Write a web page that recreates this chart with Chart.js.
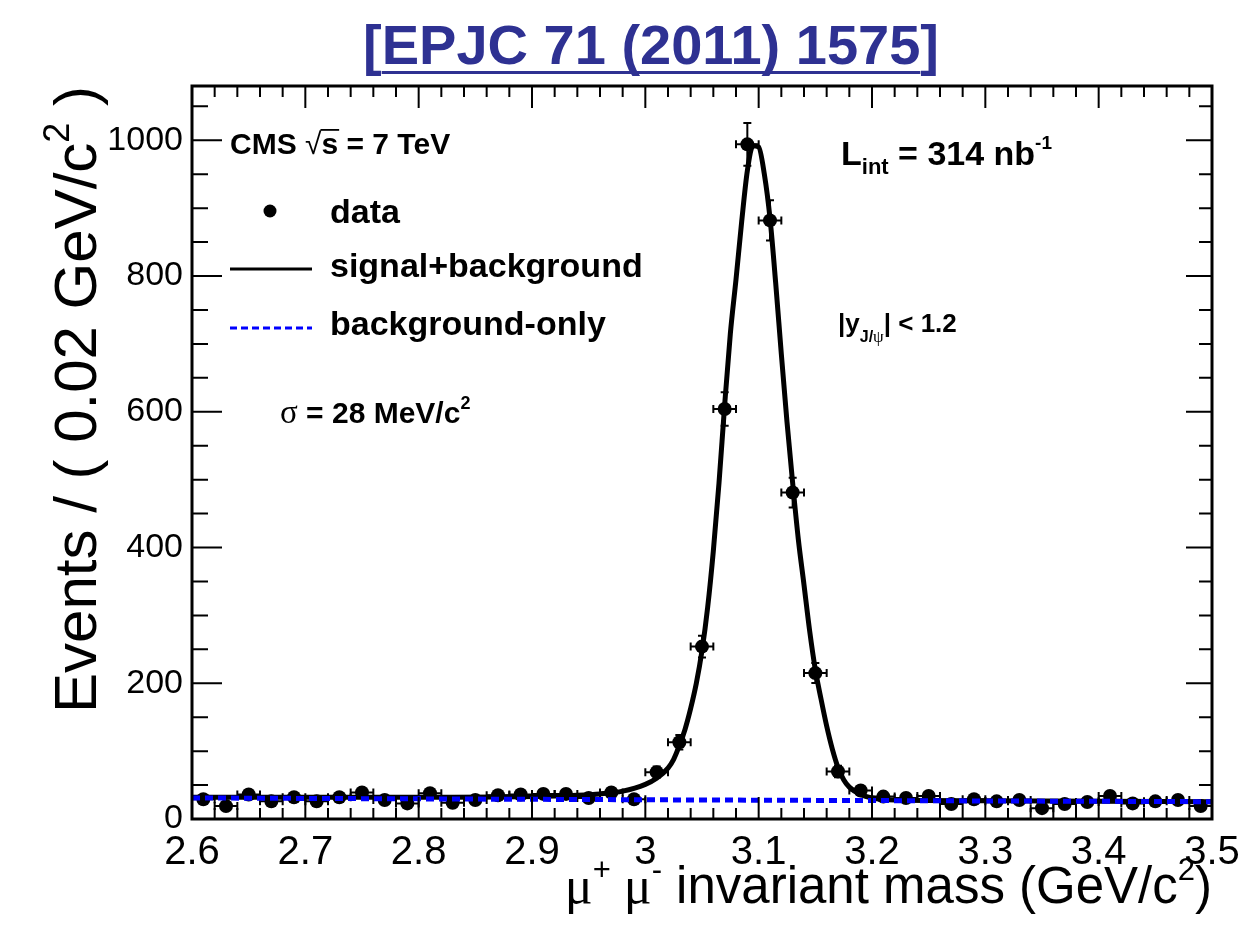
<!DOCTYPE html>
<html>
<head>
<meta charset="utf-8">
<script src="https://cdn.jsdelivr.net/npm/chart.js@4.4.0/dist/chart.umd.min.js"></script>
<style>
html, body { margin: 0; padding: 0; background: #fff; }
#wrap { width: 1250px; height: 931px; }
</style>
</head>
<body>
<div id="wrap"><canvas id="massPlot" width="1250" height="931"></canvas></div>
<script>
// bin centres in GeV/c^2 (bins are 0.02 wide)
var binCentres = [2.61, 2.63, 2.65, 2.67, 2.69, 2.71, 2.73, 2.75, 2.77, 2.79,
                  2.81, 2.83, 2.85, 2.87, 2.89, 2.91, 2.93, 2.95, 2.97, 2.99,
                  3.01, 3.03, 3.05, 3.07, 3.09, 3.11, 3.13, 3.15, 3.17, 3.19,
                  3.21, 3.23, 3.25, 3.27, 3.29, 3.31, 3.33, 3.35, 3.37, 3.39,
                  3.41, 3.43, 3.45, 3.47, 3.49];
var events = [29, 19, 36, 26, 32, 26, 32, 39, 28, 23,
              38, 24, 28, 35, 36, 37, 37, 31, 39, 29,
              69, 113, 254, 604, 994, 882, 481, 215, 70, 42,
              33, 31, 34, 22, 29, 26, 28, 16, 22, 25,
              34, 23, 26, 28, 19];
var eventErrors = [5.4, 4.4, 6.0, 5.1, 5.7, 5.1, 5.7, 6.2, 5.3, 4.8,
                   6.2, 4.9, 5.3, 5.9, 6.0, 6.1, 6.1, 5.6, 6.2, 5.4,
                   8.3, 10.6, 15.9, 24.6, 31.5, 29.7, 21.9, 14.7, 8.4, 6.5,
                   5.7, 5.6, 5.8, 4.7, 5.4, 5.1, 5.3, 4.0, 4.7, 5.0,
                   5.8, 4.8, 5.1, 5.3, 4.4];

// fitted signal+background curve
var fitMass = [2.60, 2.70, 2.80, 2.90, 2.94, 2.96, 2.98, 3.00, 3.01, 3.02,
               3.025, 3.03, 3.035, 3.04, 3.045, 3.05, 3.055, 3.06, 3.065, 3.07,
               3.075, 3.08, 3.085, 3.09, 3.095, 3.10, 3.105, 3.11, 3.115, 3.12,
               3.125, 3.13, 3.135, 3.14, 3.145, 3.15, 3.155, 3.16, 3.165, 3.17,
               3.175, 3.18, 3.19, 3.20, 3.22, 3.30, 3.40, 3.50];
var fitEvents = [32, 32, 32, 33, 35, 37, 41, 51, 60, 75,
                 88, 108, 132, 163, 200, 248, 312, 395, 495, 610,
                 715, 795, 880, 955, 992, 990, 950, 885, 790, 685,
                 585, 495, 412, 345, 277, 220, 177, 137, 103, 76,
                 58, 47, 36, 31, 28, 27, 26, 25.5];

// background-only component
var bkgMass = [2.60, 3.05, 3.50];
var bkgEvents = [31, 28, 25.5];

var xTickValues = [2.6, 2.7, 2.8, 2.9, 3.0, 3.1, 3.2, 3.3, 3.4, 3.5];
var xTickLabels = ['2.6', '2.7', '2.8', '2.9', '3', '3.1', '3.2', '3.3', '3.4', '3.5'];
var yTickValues = [0, 200, 400, 600, 800, 1000];
var yTickLabels = ['0', '200', '400', '600', '800', '1000'];

var SANS = '"Liberation Sans", Arial, Helvetica, sans-serif';
var SERIF = '"Liberation Serif", "Times New Roman", serif';

// draws a run of text pieces (for sub/superscripts)
function drawRich(ctx, x, y, parts, align) {
  var total = 0;
  parts.forEach(function (p) { ctx.font = p.font; p.w = ctx.measureText(p.t).width; total += p.w; });
  var cx = x;
  if (align === 'right') cx = x - total;
  else if (align === 'center') cx = x - total / 2;
  ctx.textAlign = 'left';
  ctx.textBaseline = 'alphabetic';
  parts.forEach(function (p) {
    ctx.font = p.font;
    ctx.fillStyle = p.color || '#000';
    ctx.fillText(p.t, cx, y + (p.dy || 0));
    p.x0 = cx;
    cx += p.w;
  });
  return parts;
}

var rootStyle = {
  id: 'rootStyle',
  beforeDraw: function (chart) {
    var c = chart.ctx;
    c.save();
    c.fillStyle = '#fff';
    c.fillRect(0, 0, chart.width, chart.height);
    c.restore();
  },
  afterDatasetDraw: function (chart, args) {
    if (args.index !== 2) return;
    var c = chart.ctx, xs = chart.scales.x, ys = chart.scales.y;
    c.save();
    c.strokeStyle = '#000';
    c.lineWidth = 2;
    binCentres.forEach(function (m, i) {
      var px = xs.getPixelForValue(m), py = ys.getPixelForValue(events[i]);
      var xl = xs.getPixelForValue(m - 0.01), xr = xs.getPixelForValue(m + 0.01);
      var yt = ys.getPixelForValue(events[i] + eventErrors[i]);
      var yb = ys.getPixelForValue(events[i] - eventErrors[i]);
      c.beginPath();
      c.moveTo(xl, py); c.lineTo(xr, py);
      c.moveTo(xl, py - 4); c.lineTo(xl, py + 4);
      c.moveTo(xr, py - 4); c.lineTo(xr, py + 4);
      c.moveTo(px, yt); c.lineTo(px, yb);
      c.moveTo(px - 4, yt); c.lineTo(px + 4, yt);
      c.moveTo(px - 4, yb); c.lineTo(px + 4, yb);
      c.stroke();
    });
    c.restore();
  },
  afterDraw: function (chart) {
    var c = chart.ctx, a = chart.chartArea, xs = chart.scales.x, ys = chart.scales.y;
    c.save();

    // frame
    c.strokeStyle = '#000';
    c.lineWidth = 3;
    c.strokeRect(a.left, a.top, a.right - a.left, a.bottom - a.top);

    // ticks pointing inwards, ROOT style
    c.lineWidth = 2;
    c.beginPath();
    for (var k = 0; k <= 45; k++) {
      var px = xs.getPixelForValue(2.6 + k * 0.02);
      var len = (k % 5 === 0) ? 22 : 11;
      c.moveTo(px, a.bottom); c.lineTo(px, a.bottom - len);
      c.moveTo(px, a.top); c.lineTo(px, a.top + len);
    }
    for (var v = 0; v <= 1050; v += 50) {
      var py = ys.getPixelForValue(v);
      var major = (v % 200 === 0);
      c.moveTo(a.left, py); c.lineTo(a.left + (major ? 30 : 16), py);
      c.moveTo(a.right, py); c.lineTo(a.right - (major ? 26 : 13), py);
    }
    c.stroke();

    // title
    c.font = 'bold 56px ' + SANS;
    var tText = '[EPJC 71 (2011) 1575]';
    var tw = c.measureText(tText).width;
    var bw = c.measureText('[').width;
    var tx = 651 - tw / 2;
    c.fillStyle = '#2e3192';
    c.textAlign = 'left';
    c.textBaseline = 'alphabetic';
    c.fillText(tText, tx, 64);
    c.fillRect(tx + bw, 71, tw - 2 * bw, 3);

    // y axis title
    c.save();
    c.translate(96, 86);
    c.rotate(-Math.PI / 2);
    drawRich(c, 0, 0, [
      { t: 'Events / ( 0.02 GeV/c', font: '60px ' + SANS },
      { t: '2', font: '36px ' + SANS, dy: -27 },
      { t: ' )', font: '60px ' + SANS }
    ], 'right');
    c.restore();

    // x axis title
    drawRich(c, a.right, 903, [
      { t: '\u03bc', font: '52px ' + SERIF },
      { t: '+', font: '31px ' + SANS, dy: -23 },
      { t: ' \u03bc', font: '52px ' + SERIF },
      { t: '-', font: '31px ' + SANS, dy: -23 },
      { t: ' invariant mass (GeV/c', font: '51px ' + SANS },
      { t: '2', font: '31px ' + SANS, dy: -23 },
      { t: ')', font: '51px ' + SANS }
    ], 'right');

    // CMS label with sqrt(s)
    var cms = drawRich(c, 230, 154, [
      { t: 'CMS ', font: 'bold 30px ' + SANS },
      { t: '\u221a', font: '30px ' + SANS },
      { t: 's', font: 'bold 30px ' + SANS },
      { t: ' = 7 TeV', font: 'bold 30px ' + SANS }
    ], 'left');
    c.fillStyle = '#000';
    c.fillRect(cms[2].x0 - 1, 129, cms[2].w + 2, 1.8);

    // legend
    c.fillStyle = '#000';
    c.beginPath();
    c.arc(270, 211, 6.5, 0, Math.PI * 2);
    c.fill();
    c.font = 'bold 34px ' + SANS;
    c.fillText('data', 330, 223);
    c.fillText('signal+background', 330, 277);
    c.fillText('background-only', 330, 335);
    c.strokeStyle = '#000';
    c.lineWidth = 3;
    c.beginPath(); c.moveTo(230, 269); c.lineTo(312, 269); c.stroke();
    c.strokeStyle = '#0000ff';
    c.setLineDash([7, 4]);
    c.beginPath(); c.moveTo(230, 328); c.lineTo(312, 328); c.stroke();
    c.setLineDash([]);

    // sigma
    drawRich(c, 280, 423, [
      { t: '\u03c3', font: '33px ' + SERIF },
      { t: ' = 28 MeV/c', font: 'bold 30px ' + SANS },
      { t: '2', font: 'bold 18px ' + SANS, dy: -14 }
    ], 'left');

    // luminosity
    drawRich(c, 841, 165, [
      { t: 'L', font: 'bold 34px ' + SANS },
      { t: 'int', font: 'bold 22px ' + SANS, dy: 9 },
      { t: ' = 314 nb', font: 'bold 34px ' + SANS },
      { t: '-1', font: 'bold 19px ' + SANS, dy: -16 }
    ], 'left');

    // rapidity cut
    drawRich(c, 838, 332, [
      { t: '|y', font: 'bold 26px ' + SANS },
      { t: 'J/', font: 'bold 16px ' + SANS, dy: 10 },
      { t: '\u03c8', font: '17px ' + SERIF, dy: 10 },
      { t: '| < 1.2', font: 'bold 26px ' + SANS }
    ], 'left');

    c.restore();
  }
};

var ctx = document.getElementById('massPlot').getContext('2d');
var chart = new Chart(ctx, {
  type: 'scatter',
  data: {
    datasets: [{
      label: 'background-only',
      data: bkgMass.map(function (m, i) { return { x: m, y: bkgEvents[i] }; }),
      showLine: true,
      borderColor: '#0000ff',
      borderWidth: 5,
      borderDash: [8, 5],
      pointRadius: 0,
      order: 0
    }, {
      label: 'signal+background',
      data: fitMass.map(function (m, i) { return { x: m, y: fitEvents[i] }; }),
      showLine: true,
      borderColor: '#000',
      borderWidth: 5,
      pointRadius: 0,
      cubicInterpolationMode: 'monotone',
      order: 1
    }, {
      label: 'data',
      data: binCentres.map(function (m, i) { return { x: m, y: events[i] }; }),
      pointRadius: 7,
      pointBackgroundColor: '#000',
      pointBorderWidth: 0,
      order: 2
    }]
  },
  options: {
    responsive: false,
    animation: false,
    layout: { padding: { top: 86, right: 38, left: 0, bottom: 0 } },
    plugins: { legend: { display: false }, tooltip: { enabled: false } },
    scales: {
      x: {
        type: 'linear',
        min: 2.6,
        max: 3.5,
        grid: { display: false, drawTicks: false },
        border: { display: false },
        afterBuildTicks: function (s) { s.ticks = xTickValues.map(function (v) { return { value: v }; }); },
        afterFit: function (s) { s.height = 112; },
        ticks: {
          callback: function (v, i) { return xTickLabels[i]; },
          font: { family: SANS, size: 40 },
          color: '#000',
          padding: 10,
          maxRotation: 0,
          autoSkip: false
        }
      },
      y: {
        type: 'linear',
        min: 0,
        max: 1080,
        grid: { display: false, drawTicks: false },
        border: { display: false },
        afterBuildTicks: function (s) { s.ticks = yTickValues.map(function (v) { return { value: v }; }); },
        afterFit: function (s) { s.width = 192; },
        ticks: {
          callback: function (v, i) { return yTickLabels[i]; },
          font: { family: SANS, size: 34 },
          color: '#000',
          padding: 9,
          autoSkip: false
        }
      }
    }
  },
  plugins: [rootStyle]
});
</script>
</body>
</html>
